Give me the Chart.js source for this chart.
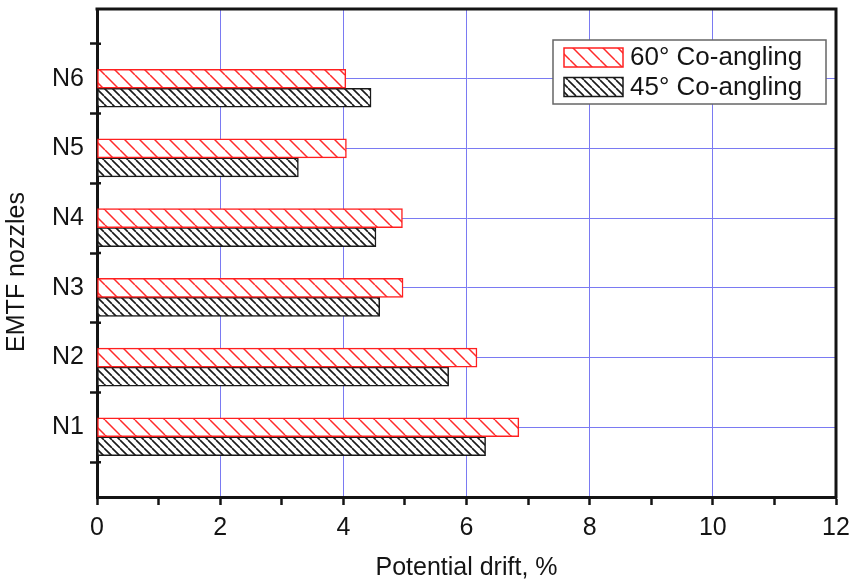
<!DOCTYPE html>
<html>
<head>
<meta charset="utf-8">
<script src="https://cdn.jsdelivr.net/npm/chart.js@4.4.1/dist/chart.umd.min.js"></script>
<style>
html,body{margin:0;padding:0;background:#fff;}
#wrap{width:856px;height:587px;}
</style>
</head>
<body>
<div id="wrap"><canvas id="myChart"></canvas></div>
<script>
// data
const nozzles = ['N1', 'N2', 'N3', 'N4', 'N5', 'N6'];
const nozzlePos = [1, 2, 3, 4, 5, 6];
const drift60 = [6.85, 6.17, 4.97, 4.96, 4.05, 4.04];
const drift45 = [6.31, 5.71, 4.59, 4.53, 3.27, 4.45];
const xLabels = [0, 2, 4, 6, 8, 10, 12];
const seriesNames = ['60° Co-angling', '45° Co-angling'];

const ctx = document.querySelector('#myChart').getContext('2d');
const FONT = "'Liberation Sans', Arial, sans-serif";
const INK = '#141414';
const GRID = '#7a7af2';

Chart.defaults.font.family = FONT;
Chart.defaults.color = INK;

// diagonal hatch fill "\\\\"
function hatch(color, step, lw) {
    const c = document.createElement('canvas');
    c.width = step; c.height = step;
    const g = c.getContext('2d');
    g.fillStyle = '#fff';
    g.fillRect(0, 0, step, step);
    g.strokeStyle = color;
    g.lineWidth = lw;
    g.beginPath();
    for (let o = -step; o <= step; o += step) {
        g.moveTo(o, 0);
        g.lineTo(o + step, step);
    }
    g.stroke();
    return ctx.createPattern(c, 'repeat');
}

const redHatch = hatch('#ff2a2a', 15, 1.5);
const blackHatch = hatch('#1a1a1a', 8, 1.6);

// frame, inner tick stubs, y title and boxed legend
const extras = {
    id: 'extras',
    afterDraw(chart) {
        const c = chart.ctx;
        const a = chart.chartArea;
        const ys = chart.scales.y;
        c.save();
        c.strokeStyle = INK;
        c.lineWidth = 3;
        c.beginPath();
        c.moveTo(a.left - 1.5, a.top);
        c.lineTo(a.right, a.top);
        c.lineTo(a.right, a.bottom + 1.5);
        c.stroke();

        // y ticks cross the axis a little
        c.lineWidth = 2.5;
        c.beginPath();
        nozzlePos.forEach(p => {
            const py = ys.getPixelForValue(p - 0.5);
            c.moveTo(a.left, py);
            c.lineTo(a.left + 4, py);
        });
        const top = ys.getPixelForValue(nozzlePos[nozzlePos.length - 1] + 0.5);
        c.moveTo(a.left, top);
        c.lineTo(a.left + 4, top);
        c.stroke();

        // y title
        c.translate(17, 272);
        c.rotate(-Math.PI / 2);
        c.font = '25px ' + FONT;
        c.fillStyle = INK;
        c.textAlign = 'center';
        c.textBaseline = 'middle';
        c.fillText('EMTF nozzles', 0, 0);
        c.restore();

        // legend
        c.save();
        c.fillStyle = '#fff';
        c.fillRect(553, 40, 273, 64);
        c.strokeStyle = '#666';
        c.lineWidth = 1.5;
        c.strokeRect(553, 40, 273, 64);
        const sets = chart.data.datasets.filter(d => d.label);
        sets.forEach((d, i) => {
            const y = 48 + i * 29.5;
            c.fillStyle = d.backgroundColor;
            c.fillRect(564, y, 59, 19);
            c.strokeStyle = d.borderColor;
            c.lineWidth = 1.5;
            c.strokeRect(564, y, 59, 19);
            c.fillStyle = INK;
            c.font = '26px ' + FONT;
            c.textBaseline = 'middle';
            c.fillText(d.label, 630, y + 10);
        });
        c.restore();
    }
};

new Chart(ctx, {
    type: 'bar',
    data: {
        datasets: [
            // empty spacer so the red bar sits on the category line
            {
                label: '',
                data: nozzlePos.map(p => ({x: 0, y: p})),
                backgroundColor: 'transparent',
                borderWidth: 0
            },
            {
                label: seriesNames[0],
                data: nozzlePos.map((p, i) => ({x: drift60[i], y: p})),
                backgroundColor: redHatch,
                borderColor: '#ff2020',
                borderWidth: 1.5,
                borderSkipped: false
            },
            {
                label: seriesNames[1],
                data: nozzlePos.map((p, i) => ({x: drift45[i], y: p})),
                backgroundColor: blackHatch,
                borderColor: '#1a1a1a',
                borderWidth: 1.5,
                borderSkipped: false
            }
        ]
    },
    options: {
        indexAxis: 'y',
        responsive: true,
        maintainAspectRatio: false,
        animation: false,
        barThickness: 19,
        layout: {padding: {top: 9, right: 20, left: 0, bottom: 0}},
        plugins: {
            legend: {display: false},
            tooltip: {enabled: false}
        },
        scales: {
            x: {
                type: 'linear',
                min: 0,
                max: 12,
                ticks: {
                    stepSize: 1,
                    autoSkip: false,
                    maxRotation: 0,
                    padding: 8,
                    font: {size: 25},
                    callback: v => xLabels.includes(v) ? String(v) : ''
                },
                grid: {
                    color: c => (c.tick && c.tick.value % 2 === 0 && c.tick.value > 0 && c.tick.value < 12) ? GRID : 'transparent',
                    lineWidth: 1,
                    tickColor: INK,
                    tickWidth: 2.5,
                    tickLength: 8
                },
                border: {color: INK, width: 3},
                title: {
                    display: true,
                    text: 'Potential drift, %',
                    font: {size: 25},
                    padding: {top: 0, bottom: 4}
                },
                afterFit: s => { s.height = 90; s.paddingLeft = 0; s.paddingRight = 0; }
            },
            y: {
                type: 'linear',
                min: 0,
                max: 7,
                offset: false,
                ticks: {
                    stepSize: 0.5,
                    autoSkip: false,
                    padding: 6,
                    font: {size: 25},
                    callback: v => {
                        const i = nozzlePos.indexOf(v);
                        return i >= 0 ? nozzles[i] : '';
                    }
                },
                grid: {
                    offset: false,
                    color: c => (c.tick && nozzlePos.includes(c.tick.value)) ? GRID : 'transparent',
                    lineWidth: 1,
                    tickColor: c => (c.tick && c.tick.value % 1 === 0.5) ? INK : 'transparent',
                    tickWidth: 2.5,
                    tickLength: 7
                },
                border: {color: INK, width: 3},
                afterFit: s => { s.width = 97; s.paddingTop = 0; s.paddingBottom = 0; }
            }
        }
    },
    plugins: [extras]
});
</script>
</body>
</html>
